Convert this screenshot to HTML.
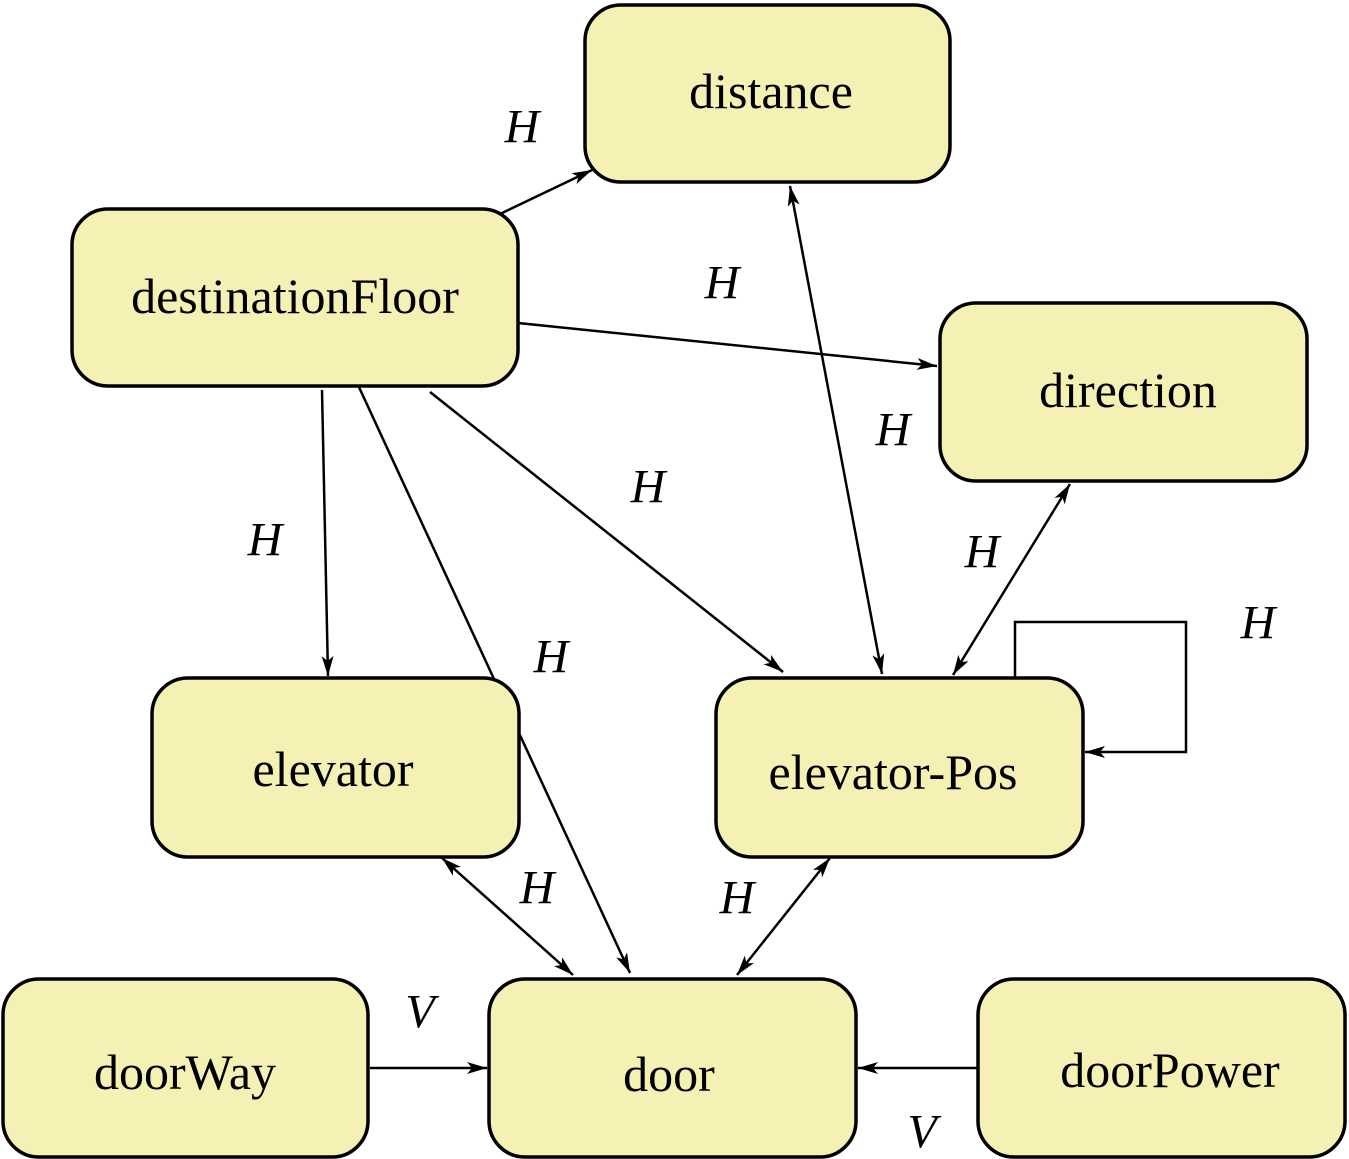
<!DOCTYPE html>
<html><head><meta charset="utf-8"><style>
body{margin:0;background:#fff;width:1349px;height:1159px;overflow:hidden}
svg{display:block}
text{font-family:"Liberation Serif",serif}
.n{font-size:50px;text-anchor:middle;dominant-baseline:central}
.l{font-size:48px;font-style:italic;text-anchor:middle;dominant-baseline:central}
rect{fill:#f5f1b5;stroke:#000;stroke-width:3.5}
line,path.c{stroke:#000;stroke-width:2.5;fill:none}
</style></head><body>
<svg width="1349" height="1159" viewBox="0 0 1349 1159">
<defs><marker id="a" viewBox="0 0 20 12" refX="20" refY="6" markerWidth="20" markerHeight="12" markerUnits="userSpaceOnUse" orient="auto-start-reverse"><path d="M0,0 L20,6 L0,12 L5,6 Z" fill="#000"/></marker></defs>
<line x1="500" y1="214" x2="592" y2="170" marker-end="url(#a)"/>
<line x1="518" y1="323" x2="937" y2="366" marker-end="url(#a)"/>
<line x1="322" y1="390" x2="328" y2="676" marker-end="url(#a)"/>
<line x1="358" y1="385" x2="630" y2="973" marker-end="url(#a)"/>
<line x1="430" y1="392" x2="783" y2="672" marker-end="url(#a)"/>
<line x1="790" y1="186" x2="882" y2="674" marker-start="url(#a)" marker-end="url(#a)"/>
<line x1="1070" y1="484" x2="953" y2="675" marker-start="url(#a)" marker-end="url(#a)"/>
<path class="c" d="M1015,678 L1015,622 L1186,622 L1186,752 L1085,752" marker-end="url(#a)"/>
<line x1="442" y1="858" x2="573" y2="975" marker-start="url(#a)" marker-end="url(#a)"/>
<line x1="830" y1="858" x2="737" y2="975" marker-start="url(#a)" marker-end="url(#a)"/>
<line x1="370" y1="1068" x2="487" y2="1068" marker-end="url(#a)"/>
<line x1="978" y1="1068" x2="858" y2="1068" marker-end="url(#a)"/>
<rect x="585" y="5" width="365" height="177" rx="36"/>
<rect x="72" y="209" width="446" height="177" rx="36"/>
<rect x="940" y="303" width="367" height="178" rx="36"/>
<rect x="152" y="678" width="367" height="179" rx="36"/>
<rect x="716" y="678" width="367" height="179" rx="36"/>
<rect x="3" y="979" width="365" height="178" rx="36"/>
<rect x="489" y="979" width="367" height="178" rx="36"/>
<rect x="978" y="979" width="367" height="178" rx="36"/>
<text class="n" x="771" y="91">distance</text>
<text class="n" x="295" y="296">destinationFloor</text>
<text class="n" x="1128" y="390">direction</text>
<text class="n" x="333" y="769">elevator</text>
<text class="n" x="893" y="772">elevator-Pos</text>
<text class="n" x="185" y="1072">doorWay</text>
<text class="n" x="669" y="1074">door</text>
<text class="n" x="1170" y="1070">doorPower</text>
<text class="l" x="522" y="127">H</text>
<text class="l" x="722" y="283">H</text>
<text class="l" x="893" y="430">H</text>
<text class="l" x="648" y="487">H</text>
<text class="l" x="265" y="540">H</text>
<text class="l" x="551" y="657">H</text>
<text class="l" x="982" y="552">H</text>
<text class="l" x="1258" y="623">H</text>
<text class="l" x="537" y="888">H</text>
<text class="l" x="737" y="898">H</text>
<text class="l" x="420" y="1012">V</text>
<text class="l" x="922" y="1132">V</text>
</svg>
</body></html>
